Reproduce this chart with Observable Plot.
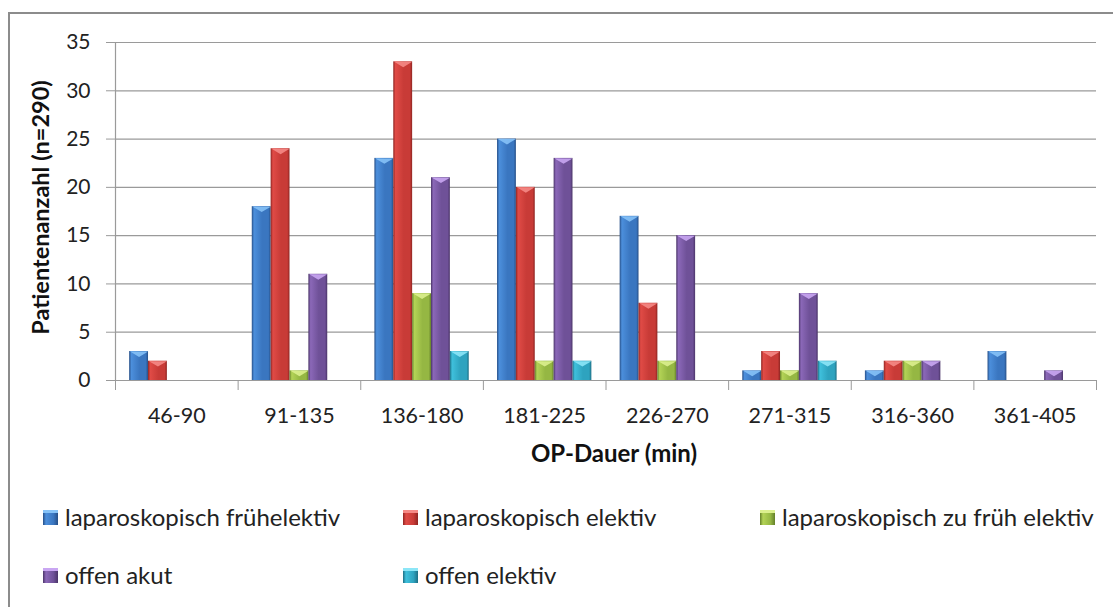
<!DOCTYPE html>
<html>
<head>
<meta charset="utf-8">
<script src="https://cdn.jsdelivr.net/npm/d3@7"></script>
<script src="https://cdn.jsdelivr.net/npm/@observablehq/plot@0.6"></script>
<style>
  html, body { margin: 0; padding: 0; background: #fff; }
  #wrap { position: relative; width: 1113px; height: 607px; overflow: hidden; font-family: Lato, "Open Sans", sans-serif; color: #222; }
  #border { position: absolute; left: 8px; top: 12px; width: 1200px; height: 700px; border: 2px solid #8c8c8c; box-sizing: border-box; pointer-events: none; }
  #chart { position: absolute; left: 0; top: 0; }
  .leg { position: absolute; font-size: 24px; line-height: 26px; white-space: nowrap; display: flex; align-items: center; }
  .sw { width: 15px; height: 15px; margin-right: 7px; display: inline-block; flex: none; }
</style>
</head>
<body>
<svg width="0" height="0" style="position:absolute">
  <defs id="gdefs"></defs>
</svg>
<div id="wrap">
  <div id="chart"></div>
  <div id="legend"></div>
  <div id="border"></div>
</div>
<script>
// ---- data ----
const categories = ["46-90", "91-135", "136-180", "181-225", "226-270", "271-315", "316-360", "361-405"];
const seriesNames = [
  "laparoskopisch frühelektiv",
  "laparoskopisch elektiv",
  "laparoskopisch zu früh elektiv",
  "offen akut",
  "offen elektiv"
];
const laparoFruehelektiv = [3, 18, 23, 25, 17, 1, 1, 3];
const laparoElektiv      = [2, 24, 33, 20, 8, 3, 2, 0];
const laparoZuFrueh      = [0, 1, 9, 2, 2, 1, 2, 0];
const offenAkut          = [0, 11, 21, 23, 15, 9, 2, 1];
const offenElektiv       = [0, 0, 3, 2, 0, 2, 0, 0];
const seriesValues = [laparoFruehelektiv, laparoElektiv, laparoZuFrueh, offenAkut, offenElektiv];
const yTicks = [0, 5, 10, 15, 20, 25, 30, 35];

// ---- styles (colors per series: light, mid, dark, highlight) ----
const palette = [
  {light: "#4c8fdc", mid: "#3a76c0", dark: "#274f87", hi: "#86c2f7"},
  {light: "#e04b46", mid: "#c83b37", dark: "#8f2522", hi: "#f58a86"},
  {light: "#b3d356", mid: "#95b743", dark: "#64802a", hi: "#dcf08e"},
  {light: "#8b68b8", mid: "#6f5198", dark: "#4b3569", hi: "#c9a6f2"},
  {light: "#3fc0dc", mid: "#2ea3bf", dark: "#1d6f85", hi: "#8ce6f7"}
];
const defs = document.getElementById("gdefs");
palette.forEach((p, j) => {
  defs.innerHTML += `<linearGradient id="g${j}" x1="0" x2="1" y1="0" y2="0">
    <stop offset="0" stop-color="${p.dark}"/>
    <stop offset="0.12" stop-color="${p.light}"/>
    <stop offset="0.55" stop-color="${p.mid}"/>
    <stop offset="0.88" stop-color="${p.mid}"/>
    <stop offset="1" stop-color="${p.dark}"/>
  </linearGradient>`;
});

// ---- table built from arrays ----
const gap = 1.5; // Excel gap width 150%
const nS = seriesNames.length;
const rows = [];
categories.forEach((c, i) => {
  seriesValues.forEach((vals, j) => {
    rows.push({cat: c, i, j, value: vals[i]});
  });
});
const slot = d => d.i + (gap / 2 + d.j) / (nS + gap);
const slotW = 1 / (nS + gap);

const chevron = {
  draw(ctx, size) {
    const a = Math.sqrt(size / Math.PI);
    ctx.moveTo(-a, 0);
    ctx.lineTo(a, 0);
    ctx.lineTo(0, a * 0.6);
    ctx.closePath();
  }
};

const FONT = "Lato";
const marks = [
  Plot.gridY(yTicks, {stroke: "#9a9a9a", strokeOpacity: 1, strokeWidth: 1.2}),
  Plot.axisY(yTicks, {tickSize: 9, tickPadding: 16, stroke: "#9a9a9a", fontSize: 21, fontFamily: FONT, fill: "#222", label: null}),
  Plot.axisX(d3.range(categories.length + 1), {tickSize: 10, tickFormat: () => "", stroke: "#9a9a9a", label: null}),
  Plot.axisX(d3.range(categories.length).map(i => i + 0.5), {tickSize: 0, tickPadding: 27, tickFormat: d => categories[Math.floor(d)], fontSize: 21.5, fontFamily: FONT, fill: "#222", label: null}),
  Plot.ruleX([0], {y1: 0, y2: 35, stroke: "#9a9a9a", strokeWidth: 1.2})
];
seriesNames.forEach((s, j) => {
  const data = rows.filter(d => d.j === j && d.value > 0);
  marks.push(Plot.rectY(data, {x1: slot, x2: d => slot(d) + slotW, y1: 0, y2: "value", fill: `url(#g${j})`}));
  marks.push(Plot.dot(data, {x: d => slot(d) + slotW / 2, y: "value", r: 9, symbol: chevron, fill: palette[j].hi, fillOpacity: 0.9, stroke: "none"}));
});
marks.push(Plot.text(["OP-Dauer (min)"], {frameAnchor: "bottom", dy: 81, dx: 8, fontWeight: "bold", fontSize: 24, fontFamily: FONT, fill: "#111"}));
marks.push(Plot.text(["Patientenanzahl (n=290)"], {frameAnchor: "left", textAnchor: "middle", rotate: -90, dx: -74, dy: -4, fontWeight: "bold", fontSize: 23.5, fontFamily: FONT, fill: "#111"}));

const chart = Plot.plot({
  width: 1113,
  height: 490,
  marginLeft: 115,
  marginRight: 17,
  marginTop: 42,
  marginBottom: 110,
  style: {fontFamily: FONT, fontSize: "21px", background: "transparent", overflow: "visible"},
  x: {type: "linear", domain: [0, categories.length]},
  y: {domain: [0, 35]},
  marks
});
document.getElementById("chart").appendChild(chart);

// ---- legend ----
const legPos = [
  {left: 43, top: 517}, {left: 403, top: 517}, {left: 760, top: 517},
  {left: 43, top: 575}, {left: 403, top: 575}
];
const legend = document.getElementById("legend");
seriesNames.forEach((s, j) => {
  const p = palette[j];
  const el = document.createElement("div");
  el.className = "leg";
  el.style.left = legPos[j].left + "px";
  el.style.top = (legPos[j].top - 13) + "px";
  el.innerHTML = `<span class="sw" style="background: linear-gradient(to right, ${p.dark}, ${p.light} 20%, ${p.mid} 70%, ${p.dark}); box-shadow: inset 0 4px 0 -1px ${p.hi}"></span><span>${s}</span>`;
  legend.appendChild(el);
});
</script>
</body>
</html>
